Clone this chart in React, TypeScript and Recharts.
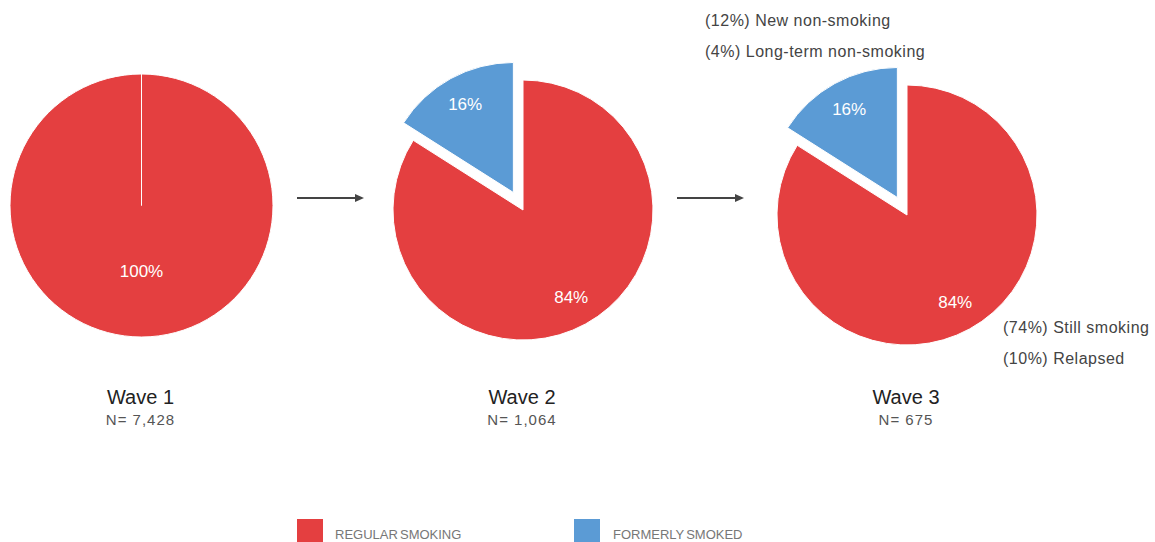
import React from "react";
import { PieChart, Pie, Cell } from "recharts";

// series + categories
const waves = ["Wave 1", "Wave 2", "Wave 3"];
const sampleSizes = ["N= 7,428", "N= 1,064", "N= 675"];
const regularSmoking = [100, 84, 84];
const formerlySmoked = [0, 16, 16];
const seriesNames = ["REGULAR SMOKING", "FORMERLY SMOKED"];

const RED = "#E43F40";
const BLUE = "#5B9BD5";

// layout for each pie
const pieCenters = [
  { cx: 141.5, cy: 205.5, r: 131.5 },
  { cx: 523, cy: 210, r: 130 },
  { cx: 907, cy: 215, r: 130 },
];
const EXPLODE = 20;
const RAD = Math.PI / 180;

const W = 1155;
const H = 542;

const makeLabel = (visible: string) => (props: any) => {
  const { cx, cy, midAngle, outerRadius, percent, name } = props;
  if (name !== visible) return null;
  const ratio = percent >= 0.999 ? 0.5 : 0.77;
  const x = cx + outerRadius * ratio * Math.cos(-midAngle * RAD);
  const y = cy + outerRadius * ratio * Math.sin(-midAngle * RAD);
  return (
    <text
      x={x}
      y={y}
      fill="#fff"
      fontSize={17}
      fontFamily="Liberation Sans, Arial, sans-serif"
      textAnchor="middle"
      dominantBaseline="central"
    >
      {`${Math.round(percent * 100)}%`}
    </text>
  );
};

export default function App() {
  return (
    <div style={{ position: "absolute", left: 0, top: 0, width: W, height: H, background: "#fff", overflow: "hidden" }}>
      <PieChart width={W} height={H} margin={{ top: 0, right: 0, bottom: 0, left: 0 }}>
        {waves.map((w, i) => {
          const data = [
            { name: seriesNames[0], value: regularSmoking[i] },
            { name: seriesNames[1], value: formerlySmoked[i] },
          ].filter((d) => d.value > 0);
          const { cx, cy, r } = pieCenters[i];
          // offset for the pulled-out slice (middle angle of the second slice)
          const total = regularSmoking[i] + formerlySmoked[i];
          const blueMid = 90 - 360 * (regularSmoking[i] + formerlySmoked[i] / 2) / total;
          const dx = EXPLODE * Math.cos(blueMid * RAD);
          const dy = -EXPLODE * Math.sin(blueMid * RAD);
          return (
            <React.Fragment key={w}>
              <Pie
                data={data}
                dataKey="value"
                nameKey="name"
                cx={cx}
                cy={cy}
                outerRadius={r}
                startAngle={90}
                endAngle={-270}
                stroke="#fff"
                strokeWidth={1}
                labelLine={false}
                label={makeLabel(seriesNames[0])}
                isAnimationActive={false}
              >
                {data.map((d) => (
                  <Cell
                    key={d.name}
                    fill={d.name === seriesNames[0] ? RED : "transparent"}
                    stroke={d.name === seriesNames[0] ? "#fff" : "none"}
                  />
                ))}
              </Pie>
              {formerlySmoked[i] > 0 && (
                <Pie
                  data={data}
                  dataKey="value"
                  nameKey="name"
                  cx={cx + dx}
                  cy={cy + dy}
                  outerRadius={r}
                  startAngle={90}
                  endAngle={-270}
                  stroke="#fff"
                  strokeWidth={1}
                  labelLine={false}
                  label={makeLabel(seriesNames[1])}
                  isAnimationActive={false}
                >
                  {data.map((d) => (
                    <Cell
                      key={d.name}
                      fill={d.name === seriesNames[1] ? BLUE : "transparent"}
                      stroke={d.name === seriesNames[1] ? "#fff" : "none"}
                    />
                  ))}
                </Pie>
              )}
            </React.Fragment>
          );
        })}
      </PieChart>

      <svg
        width={W}
        height={H}
        style={{ position: "absolute", left: 0, top: 0, pointerEvents: "none" }}
        fontFamily="Liberation Sans, Arial, sans-serif"
      >
        <defs>
          <marker id="arrow" markerWidth="10" markerHeight="10" refX="7" refY="5" orient="auto" markerUnits="userSpaceOnUse">
            <path d="M0,1 L9,5 L0,9 Z" fill="#444" />
          </marker>
        </defs>
        <line x1={297} y1={198} x2={362} y2={198} stroke="#444" strokeWidth={2} markerEnd="url(#arrow)" />
        <line x1={677} y1={198} x2={742} y2={198} stroke="#444" strokeWidth={2} markerEnd="url(#arrow)" />

        {waves.map((w, i) => (
          <g key={w}>
            <text x={pieCenters[i].cx - 1} y={404} fontSize={20} fill="#222" textAnchor="middle">
              {w}
            </text>
            <text x={pieCenters[i].cx - 1} y={425} fontSize={15} fill="#555" textAnchor="middle" letterSpacing={1}>
              {sampleSizes[i]}
            </text>
          </g>
        ))}

        <g fontSize={16} fill="#444" letterSpacing={0.5}>
          <text x={705} y={25.5}>(12%) New non-smoking</text>
          <text x={705} y={56.5}>(4%) Long-term non-smoking</text>
          <text x={1003} y={332.5}>(74%) Still smoking</text>
          <text x={1003} y={363.5}>(10%) Relapsed</text>
        </g>

        <rect x={297} y={519} width={26} height={26} fill={RED} />
        <text x={335} y={539} fontSize={13} fill="#777" wordSpacing={-1.5}>
          {seriesNames[0]}
        </text>
        <rect x={574} y={519} width={26} height={26} fill={BLUE} />
        <text x={613} y={539} fontSize={13} fill="#777" wordSpacing={-1.5}>
          {seriesNames[1]}
        </text>
      </svg>
    </div>
  );
}
